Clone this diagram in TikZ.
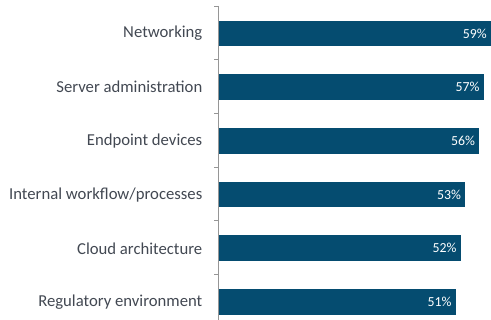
\documentclass[tikz,border=0pt]{standalone}
\usepackage{fontspec}
\setmainfont{Carlito}
\usetikzlibrary{positioning}
\definecolor{barblue}{RGB}{5,76,112}
\definecolor{labelgray}{RGB}{66,72,82}
\definecolor{axisgray}{RGB}{150,150,150}
\tikzset{
    catlabel/.style={anchor=east, inner sep=0pt, text=labelgray, font=\fontsize{16.7}{20}\selectfont},
    vallabel/.style={anchor=east, inner sep=0pt, text=white, font=\fontsize{13.8}{16}\selectfont},
    barbox/.style={fill=barblue, draw=none}
}
\begin{document}
\begin{tikzpicture}[x=1pt, y=-1pt]

    \useasboundingbox (0,0) rectangle (491,320);

    % bars: index / label / right end
    \foreach \i/\name/\val/\xend in {0/Networking/59/491,
                                     1/Server administration/57/483.7,
                                     2/Endpoint devices/56/479.3,
                                     3/Internal workflow\slash processes/53/465.3,
                                     4/Cloud architecture/52/460.7,
                                     5/Regulatory environment/51/455.7}{
        \pgfmathsetmacro{\yc}{33.5+53.7*\i}
        \fill[barbox] (219,\yc-12.8) rectangle (\xend,\yc+12.8);
        \draw(202.5,\yc) node[catlabel] (cat\i) {\name};
        \draw(\xend-4,\yc) node[vallabel] (val\i) {\val\%};
    }

    % axis and ticks
    \draw[axisgray, line width=0.8pt] (218,6) -- (218,320);
    \foreach \k in {0,...,5}{
        \draw[axisgray, line width=0.8pt] (214,6+53.7*\k) -- (218,6+53.7*\k);
    }

\end{tikzpicture}
\end{document}
